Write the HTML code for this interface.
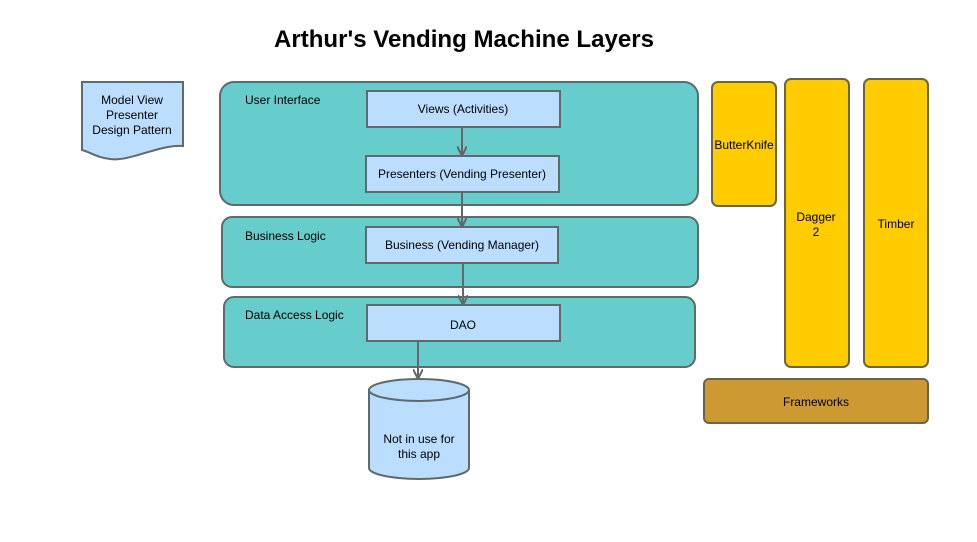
<!DOCTYPE html>
<html><head><meta charset="utf-8"><style>html,body{margin:0;padding:0;background:#fff}svg{display:block}</style></head>
<body>
<svg width="977" height="542" viewBox="0 0 977 542" xmlns="http://www.w3.org/2000/svg" font-family="Liberation Sans, Arial, sans-serif">
<defs><marker id="a" viewBox="0 0 10 10" refX="9" refY="5" markerWidth="5" markerHeight="5" orient="auto"><path d="M0,0 L10,5 L0,10" fill="none" stroke="#666" stroke-width="2"/></marker></defs>
<text x="464" y="47" text-anchor="middle" font-size="24" font-weight="bold" fill="#000" textLength="380" lengthAdjust="spacingAndGlyphs">Arthur's Vending Machine Layers</text>
<path d="M82,82 H183 V146 C160,144 130,162 110,159 C98,158 90,152 82,150 Z" fill="#bbddff" stroke="#5f6a6a" stroke-width="2"/>
<text font-size="12" fill="#000" text-anchor="middle"><tspan x="132" y="104">Model View</tspan><tspan x="132" y="119">Presenter</tspan><tspan x="132" y="134">Design Pattern</tspan></text>
<g fill="#66cccc" stroke="#5f6a6a" stroke-width="2">
<rect x="220" y="82" width="478" height="123" rx="14"/>
<rect x="222" y="217" width="476" height="70" rx="10"/>
<rect x="224" y="297" width="471" height="70" rx="10"/>
</g>
<g font-size="12" fill="#000"><text x="245" y="104">User Interface</text><text x="245" y="240">Business Logic</text><text x="245" y="319">Data Access Logic</text></g>
<g fill="#bbddff" stroke="#5f6a6a" stroke-width="2">
<rect x="367" y="91" width="193" height="36"/>
<rect x="366" y="156" width="193" height="36"/>
<rect x="366" y="227" width="192" height="36"/>
<rect x="367" y="305" width="193" height="36"/>
</g>
<g font-size="12" fill="#000" text-anchor="middle"><text x="463" y="113">Views (Activities)</text><text x="462" y="178">Presenters (Vending Presenter)</text><text x="462" y="249">Business (Vending Manager)</text><text x="463" y="329">DAO</text></g>
<g stroke="#666" stroke-width="2" fill="none" marker-end="url(#a)">
<line x1="462" y1="127" x2="462" y2="155"/>
<line x1="462" y1="192" x2="462" y2="226"/>
<line x1="463" y1="263" x2="463" y2="304"/>
<line x1="418" y1="341" x2="418" y2="378"/>
</g>
<path d="M369,390 A50,11 0 0 1 469,390 V468 A50,11 0 0 1 369,468 Z" fill="#bbddff" stroke="#5f6a6a" stroke-width="2"/>
<path d="M369,390 A50,11 0 0 0 469,390" fill="none" stroke="#5f6a6a" stroke-width="2"/>
<text font-size="12" fill="#000" text-anchor="middle"><tspan x="419" y="443">Not in use for</tspan><tspan x="419" y="458">this app</tspan></text>
<g fill="#ffcc00" stroke="#6b6545" stroke-width="2">
<rect x="712" y="82" width="64" height="124" rx="6"/>
<rect x="785" y="79" width="64" height="288" rx="6"/>
<rect x="864" y="79" width="64" height="288" rx="6"/>
</g>
<rect x="704" y="379" width="224" height="44" rx="5" fill="#cc9933" stroke="#6b6545" stroke-width="2"/>
<g font-size="12" fill="#000" text-anchor="middle"><text x="744" y="149">ButterKnife</text><text x="816" y="221">Dagger</text><text x="816" y="236">2</text><text x="896" y="228">Timber</text><text x="816" y="406">Frameworks</text></g>
</svg>
</body></html>
